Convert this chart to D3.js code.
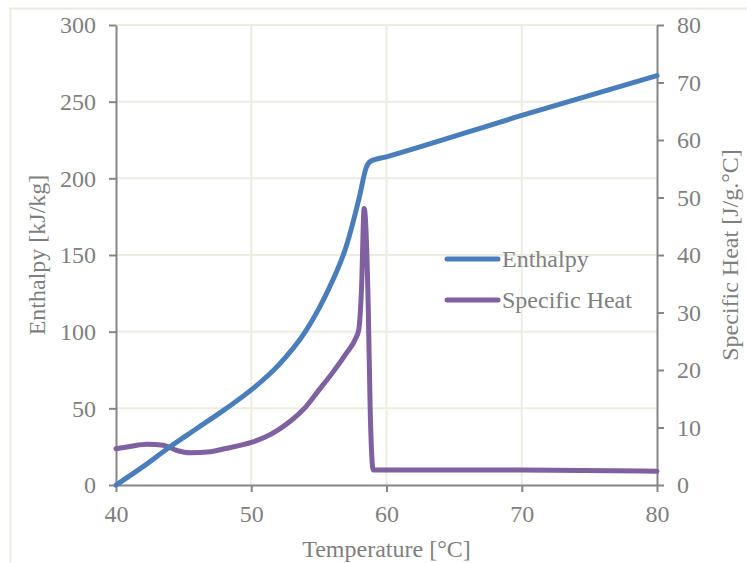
<!DOCTYPE html>
<html>
<head>
<meta charset="utf-8">
<script src="https://cdn.jsdelivr.net/npm/d3@7"></script>
<style>
  body { margin: 0; background: #fff; }
  text { font-family: "Liberation Serif", "Times New Roman", serif; fill: #7f7f7f; }
</style>
</head>
<body>
<script>
//temperatures and enthalpy
var enthalpyTemp = [40, 42, 44, 46, 48, 50, 52, 54, 55, 56, 57, 58, 58.5, 58.8, 60, 70, 80];
var enthalpyVals = [0, 12, 25, 37, 49, 62, 78, 100, 115, 133, 155, 188, 207, 211, 214, 241, 267];

//temperatures and specific heat
var heatTemp = [40, 41, 42.3, 43.5, 44.5, 45.5, 47, 48, 50, 51, 52, 53, 54, 55, 56, 57, 57.7, 57.95, 58.15, 58.35, 58.65, 58.8, 59.02, 60, 70, 80];
var heatVals = [6.3, 6.7, 7.1, 6.9, 6.0, 5.6, 5.8, 6.3, 7.4, 8.3, 9.6, 11.3, 13.5, 16.5, 19.5, 22.8, 25.4, 27, 34, 48.1, 31, 12.5, 2.6, 2.6, 2.6, 2.4];

//axis ticks
var tempTicks = [40, 50, 60, 70, 80];
var enthalpyTicks = [0, 50, 100, 150, 200, 250, 300];
var heatTicks = [0, 10, 20, 30, 40, 50, 60, 70, 80];

//series names for the legend
var seriesNames = ["Enthalpy", "Specific Heat"];
var seriesColors = ["#4a7ebb", "#7f60a0"];

var width = 747,
    height = 563;

var svg = d3.select("body")
    .append("svg")
    .attr("width", width)
    .attr("height", height);

//chart area border (runs off the right and bottom edges)
svg.append("rect")
    .attr("x", 10.5)
    .attr("y", 8.5)
    .attr("width", 760)
    .attr("height", 580)
    .attr("fill", "none")
    .attr("stroke", "#eeece1")
    .attr("stroke-width", 2);

//plot area edges
var plotLeft = 116, plotRight = 657, plotTop = 25, plotBottom = 485;

var x = d3.scaleLinear().domain([40, 80]).range([plotLeft, plotRight]);
var yLeft = d3.scaleLinear().domain([0, 300]).range([plotBottom, plotTop]);
var yRight = d3.scaleLinear().domain([0, 80]).range([plotBottom, plotTop]);

//grid lines
svg.selectAll(".hgrid")
    .data(enthalpyTicks.slice(1))
    .enter()
    .append("line")
    .attr("class", "hgrid")
    .attr("x1", plotLeft).attr("x2", plotRight)
    .attr("y1", function(d){ return yLeft(d); })
    .attr("y2", function(d){ return yLeft(d); })
    .attr("stroke", "#eeece1")
    .attr("stroke-width", 2);

svg.selectAll(".vgrid")
    .data(tempTicks.slice(1, -1))
    .enter()
    .append("line")
    .attr("class", "vgrid")
    .attr("y1", plotTop).attr("y2", plotBottom)
    .attr("x1", function(d){ return x(d); })
    .attr("x2", function(d){ return x(d); })
    .attr("stroke", "#eeece1")
    .attr("stroke-width", 2);

//axes
function styleAxis(g){
    g.selectAll("path, line").attr("stroke", "#868686").attr("stroke-width", 2);
    g.selectAll("text").attr("font-size", 24).attr("fill", "#7f7f7f")
        .attr("font-family", "Liberation Serif, Times New Roman, serif");
}

svg.append("g")
    .attr("transform", "translate(0," + plotBottom + ")")
    .call(d3.axisBottom(x).tickValues(tempTicks).tickSize(7).tickSizeOuter(0).tickPadding(13))
    .call(styleAxis);

svg.append("g")
    .attr("transform", "translate(" + plotLeft + ",0)")
    .call(d3.axisLeft(yLeft).tickValues(enthalpyTicks).tickSize(7).tickSizeOuter(0).tickPadding(13))
    .call(styleAxis);

svg.append("g")
    .attr("transform", "translate(" + plotRight + ",0)")
    .call(d3.axisRight(yRight).tickValues(heatTicks).tickSize(7).tickSizeOuter(0).tickPadding(13))
    .call(styleAxis);

//axis titles
svg.append("text")
    .attr("x", (plotLeft + plotRight) / 2)
    .attr("y", 557)
    .attr("text-anchor", "middle")
    .attr("font-size", 24)
    .text("Temperature [\u00B0C]");

svg.append("text")
    .attr("transform", "translate(45," + (plotTop + plotBottom) / 2 + ") rotate(-90)")
    .attr("text-anchor", "middle")
    .attr("font-size", 24)
    .text("Enthalpy [kJ/kg]");

svg.append("text")
    .attr("transform", "translate(738," + (plotTop + plotBottom) / 2 + ") rotate(-90)")
    .attr("text-anchor", "middle")
    .attr("font-size", 24)
    .text("Specific Heat [J/g.\u00B0C]");

//lines
var enthalpyLine = d3.line()
    .x(function(d, i){ return x(enthalpyTemp[i]); })
    .y(function(d){ return yLeft(d); })
    .curve(d3.curveMonotoneX);

var heatLine = d3.line()
    .x(function(d, i){ return x(heatTemp[i]); })
    .y(function(d){ return yRight(d); })
    .curve(d3.curveMonotoneX);

svg.append("path")
    .datum(heatVals)
    .attr("d", heatLine)
    .attr("fill", "none")
    .attr("stroke", seriesColors[1])
    .attr("stroke-width", 5)
    .attr("stroke-linejoin", "round")
    .attr("stroke-linecap", "round");

svg.append("path")
    .datum(enthalpyVals)
    .attr("d", enthalpyLine)
    .attr("fill", "none")
    .attr("stroke", seriesColors[0])
    .attr("stroke-width", 5)
    .attr("stroke-linejoin", "round")
    .attr("stroke-linecap", "round");

//legend
var legend = svg.selectAll(".legend")
    .data(seriesNames)
    .enter()
    .append("g")
    .attr("class", "legend")
    .attr("transform", function(d, i){ return "translate(447," + (259 + i * 41) + ")"; });

legend.append("line")
    .attr("x1", 0).attr("x2", 51)
    .attr("stroke", function(d, i){ return seriesColors[i]; })
    .attr("stroke-width", 5)
    .attr("stroke-linecap", "round");

legend.append("text")
    .attr("x", 55)
    .attr("y", 8)
    .attr("font-size", 24)
    .text(function(d){ return d; });
</script>
</body>
</html>
